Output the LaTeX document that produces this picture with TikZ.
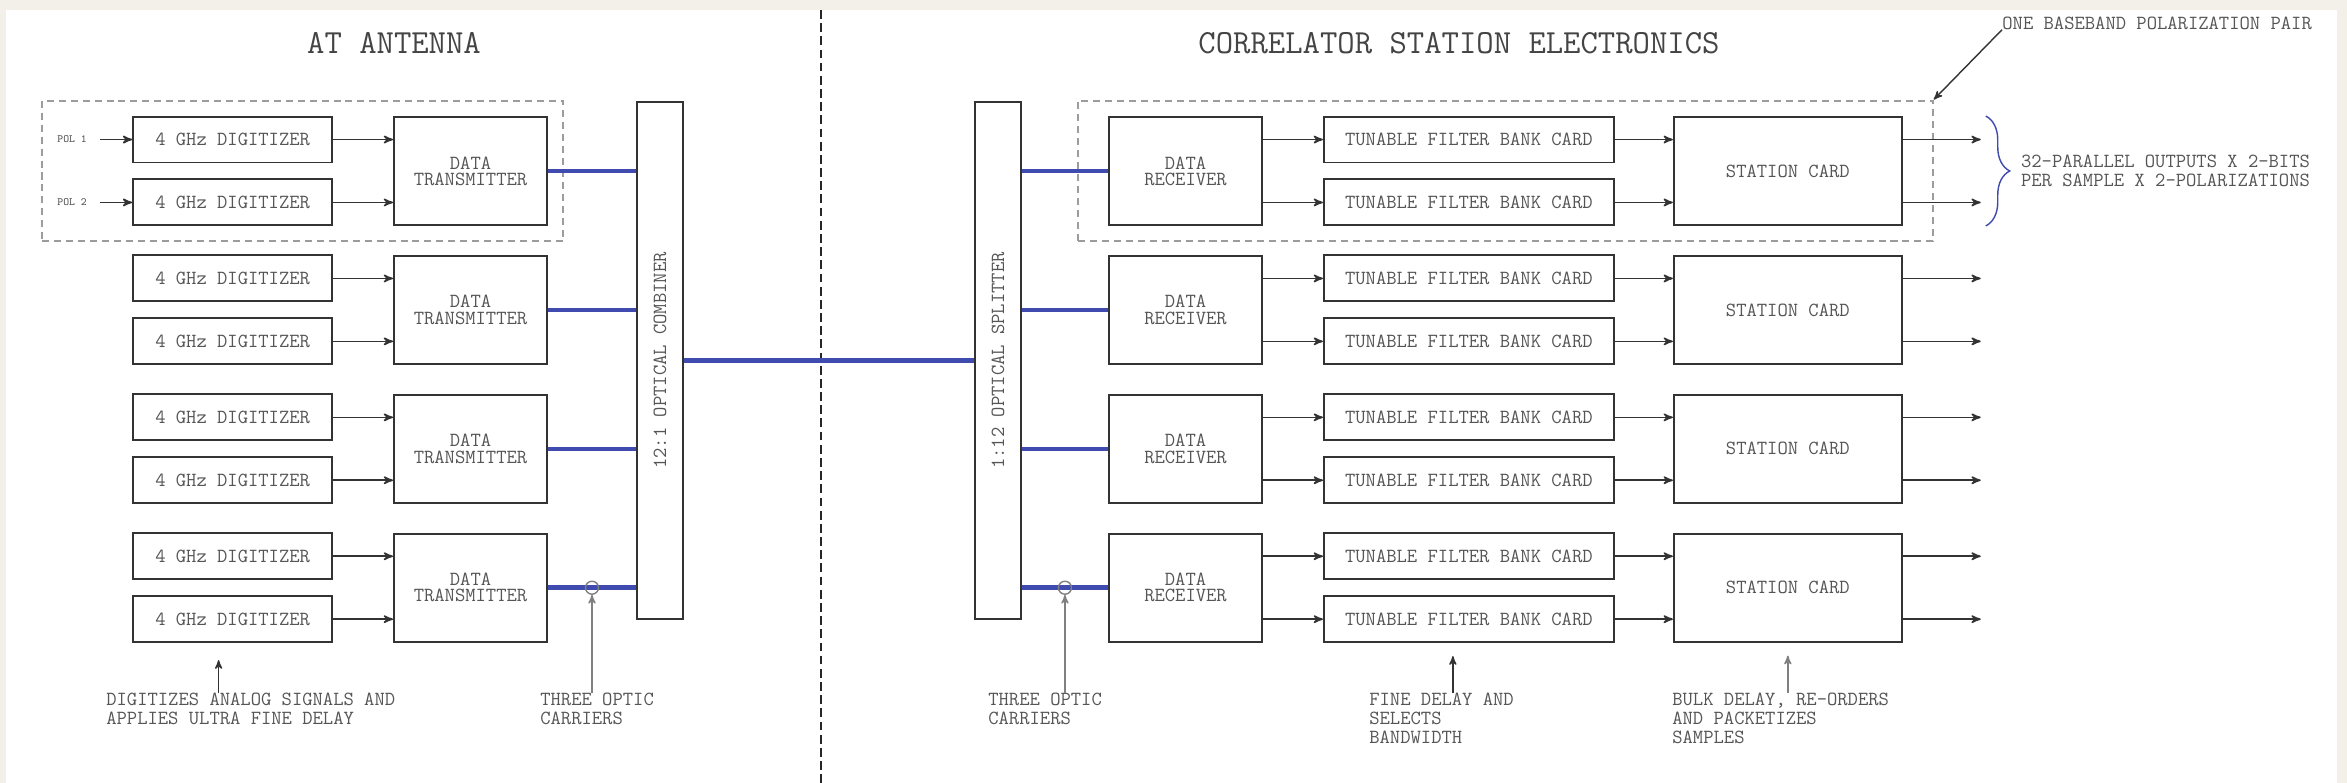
\documentclass[tikz,border=0pt]{standalone}
\usepackage{fontspec}
\usetikzlibrary{arrows, positioning, fit, calc, decorations.pathreplacing}

\definecolor{paper}{HTML}{F3F0EA}
\definecolor{boxgray}{HTML}{333333}
\definecolor{inkgray}{HTML}{555555}
\definecolor{dashgray}{HTML}{9C9C9C}
\definecolor{fiberblue}{HTML}{3F4BAE}

\begin{document}
\begin{tikzpicture}[
        x=0.02cm, y=-0.02cm,
        font=\ttfamily\fontsize{11.4}{9.2}\selectfont,
        card/.style={rectangle, draw=boxgray, line width=1.1pt, text=inkgray, align=center, inner sep=0pt},
        digit/.style={card, minimum width=3.98cm, minimum height=0.92cm},
        unit/.style={card, minimum width=3.06cm, minimum height=2.16cm},
        filt/.style={card, minimum width=5.8cm, minimum height=0.92cm},
        station/.style={card, minimum width=4.56cm, minimum height=2.16cm},
        bar/.style={card, minimum width=0.92cm, minimum height=10.34cm},
        group/.style={draw=dashgray, dash pattern=on 4pt off 2.8pt, line width=1.2pt, inner xsep=0.3cm, inner ysep=0.3cm},
        line/.style={draw=boxgray, -stealth', line width=0.9pt},
        fiber/.style={draw=fiberblue, line width=2.6pt},
        note/.style={text=inkgray, align=left, inner sep=0pt, font=\ttfamily\fontsize{11.4}{10.8}\selectfont},
        hint/.style={draw=boxgray, -stealth', line width=0.8pt},
        tap/.style={circle, draw=gray, line width=0.8pt, minimum size=0.26cm, inner sep=0pt},
        title/.style={text=inkgray!80!black, font=\ttfamily\fontsize{19.2}{22}\selectfont}
    ]
        \useasboundingbox (0,0) rectangle (2347,783);
        \fill[paper] (0,0) rectangle (2347,783);
        \fill[white] (6,10) rectangle (2337,783);

        % Titles and the split between the two sites
        \node[title] (tAnt) at (394,43) {AT ANTENNA};
        \node[title] (tCorr) at (1459,43) {CORRELATOR STATION ELECTRONICS};
        \draw[black!85, line width=0.9pt, dash pattern=on 5pt off 2.5pt] (821,10) -- (821,783);

        % Antenna side: transmitters stacked, digitizers to their left
        \node[unit] (tx1) at (470.5,171) {DATA\\TRANSMITTER};
        \node[unit, below=0.58cm of tx1] (tx2) {DATA\\TRANSMITTER};
        \node[unit, below=0.58cm of tx2] (tx3) {DATA\\TRANSMITTER};
        \node[unit, below=0.58cm of tx3] (tx4) {DATA\\TRANSMITTER};

        \node[digit, above left=0.15cm and 1.2cm of tx1.west] (da1) {4 GHz DIGITIZER};
        \node[digit, below left=0.15cm and 1.2cm of tx1.west] (db1) {4 GHz DIGITIZER};
        \node[digit, above left=0.15cm and 1.2cm of tx2.west] (da2) {4 GHz DIGITIZER};
        \node[digit, below left=0.15cm and 1.2cm of tx2.west] (db2) {4 GHz DIGITIZER};
        \node[digit, above left=0.15cm and 1.2cm of tx3.west] (da3) {4 GHz DIGITIZER};
        \node[digit, below left=0.15cm and 1.2cm of tx3.west] (db3) {4 GHz DIGITIZER};
        \node[digit, above left=0.15cm and 1.2cm of tx4.west] (da4) {4 GHz DIGITIZER};
        \node[digit, below left=0.15cm and 1.2cm of tx4.west] (db4) {4 GHz DIGITIZER};

        \node[note, font=\ttfamily\fontsize{6.3}{7}\selectfont, left=0.9cm of da1] (pol1) {POL 1};
        \node[note, font=\ttfamily\fontsize{6.3}{7}\selectfont, left=0.9cm of db1] (pol2) {POL 2};

        % Optical combiner and splitter
        \node[bar] (comb) at (660,360.5) {\rotatebox{90}{12:1 OPTICAL COMBINER}};
        \node[bar, right=5.8cm of comb] (split) {\rotatebox{90}{1:12 OPTICAL SPLITTER}};

        % Correlator side
        \node[unit] (rx1) at (1185.5,171) {DATA\\RECEIVER};
        \node[unit, below=0.58cm of rx1] (rx2) {DATA\\RECEIVER};
        \node[unit, below=0.58cm of rx2] (rx3) {DATA\\RECEIVER};
        \node[unit, below=0.58cm of rx3] (rx4) {DATA\\RECEIVER};

        \node[filt, above right=0.15cm and 1.2cm of rx1.east] (fa1) {TUNABLE FILTER BANK CARD};
        \node[filt, below right=0.15cm and 1.2cm of rx1.east] (fb1) {TUNABLE FILTER BANK CARD};
        \node[filt, above right=0.15cm and 1.2cm of rx2.east] (fa2) {TUNABLE FILTER BANK CARD};
        \node[filt, below right=0.15cm and 1.2cm of rx2.east] (fb2) {TUNABLE FILTER BANK CARD};
        \node[filt, above right=0.15cm and 1.2cm of rx3.east] (fa3) {TUNABLE FILTER BANK CARD};
        \node[filt, below right=0.15cm and 1.2cm of rx3.east] (fb3) {TUNABLE FILTER BANK CARD};
        \node[filt, above right=0.15cm and 1.2cm of rx4.east] (fa4) {TUNABLE FILTER BANK CARD};
        \node[filt, below right=0.15cm and 1.2cm of rx4.east] (fb4) {TUNABLE FILTER BANK CARD};

        \node[station, right=8.2cm of rx1] (st1) {STATION CARD};
        \node[station, right=8.2cm of rx2] (st2) {STATION CARD};
        \node[station, right=8.2cm of rx3] (st3) {STATION CARD};
        \node[station, right=8.2cm of rx4] (st4) {STATION CARD};

        % Dashed groups (one baseband polarization pair)
        \node[group, fit=(pol1) (da1) (db1) (tx1)] (grpL) {};
        \node[group, fit=(rx1) (fa1) (fb1) (st1), inner xsep=0.6cm] (grpR) {};

        % Edges
        \path[line] ([xshift=0.26cm]pol1.east) -- (da1);
        \path[line] ([xshift=0.26cm]pol2.east) -- (db1);
        \path[line] (da1) -- (da1 -| tx1.west);
        \path[line] (db1) -- (db1 -| tx1.west);
        \path[line] (da2) -- (da2 -| tx2.west);
        \path[line] (db2) -- (db2 -| tx2.west);
        \path[line] (da3) -- (da3 -| tx3.west);
        \path[line] (db3) -- (db3 -| tx3.west);
        \path[line] (da4) -- (da4 -| tx4.west);
        \path[line] (db4) -- (db4 -| tx4.west);

        \path[fiber] (tx1) -- (tx1 -| comb.west);
        \path[fiber] (tx2) -- (tx2 -| comb.west);
        \path[fiber] (tx3) -- (tx3 -| comb.west);
        \path[fiber] (tx4) -- (tx4 -| comb.west);
        \path[fiber] (comb) -- (split);
        \path[fiber] (split.east |- rx1) -- (rx1);
        \path[fiber] (split.east |- rx2) -- (rx2);
        \path[fiber] (split.east |- rx3) -- (rx3);
        \path[fiber] (split.east |- rx4) -- (rx4);

        \path[line] (rx1.east |- fa1) -- (fa1);
        \path[line] (rx1.east |- fb1) -- (fb1);
        \path[line] (rx2.east |- fa2) -- (fa2);
        \path[line] (rx2.east |- fb2) -- (fb2);
        \path[line] (rx3.east |- fa3) -- (fa3);
        \path[line] (rx3.east |- fb3) -- (fb3);
        \path[line] (rx4.east |- fa4) -- (fa4);
        \path[line] (rx4.east |- fb4) -- (fb4);

        \path[line] (fa1) -- (fa1 -| st1.west);
        \path[line] (fb1) -- (fb1 -| st1.west);
        \path[line] (fa2) -- (fa2 -| st2.west);
        \path[line] (fb2) -- (fb2 -| st2.west);
        \path[line] (fa3) -- (fa3 -| st3.west);
        \path[line] (fb3) -- (fb3 -| st3.west);
        \path[line] (fa4) -- (fa4 -| st4.west);
        \path[line] (fb4) -- (fb4 -| st4.west);

        \path[line] (st1.east |- fa1) -- ++(1.56cm,0);
        \path[line] (st1.east |- fb1) -- ++(1.56cm,0);
        \path[line] (st2.east |- fa2) -- ++(1.56cm,0);
        \path[line] (st2.east |- fb2) -- ++(1.56cm,0);
        \path[line] (st3.east |- fa3) -- ++(1.56cm,0);
        \path[line] (st3.east |- fb3) -- ++(1.56cm,0);
        \path[line] (st4.east |- fa4) -- ++(1.56cm,0);
        \path[line] (st4.east |- fb4) -- ++(1.56cm,0);

        % Optic carrier taps
        \node[tap] (tapL) at ($(tx4.east)!0.5!(tx4.east -| comb.west)$) {};
        \node[tap] (tapR) at ($(split.east |- rx4)!0.5!(rx4.west)$) {};

        % Output brace and notes
        \path[draw=fiberblue, line width=0.8pt, decorate, decoration={brace, amplitude=0.48cm}]
            ([xshift=1.66cm]st1.north east) -- ([xshift=1.66cm]st1.south east);
        \node[note, anchor=west] (nOut) at ([xshift=2.36cm]st1.east) {32-PARALLEL OUTPUTS X 2-BITS\\PER SAMPLE X 2-POLARIZATIONS};
        \node[note, anchor=west] (nPair) at (2002,23) {ONE BASEBAND POLARIZATION PAIR};
        \path[hint] (nPair.south west) -- (grpR.north east);

        \node[note, anchor=north west] (nDig) at (106,693) {DIGITIZES ANALOG SIGNALS AND\\APPLIES ULTRA FINE DELAY};
        \node[note, anchor=north west] (nCarL) at (540,693) {THREE OPTIC\\CARRIERS};
        \node[note, anchor=north west] (nCarR) at (988,693) {THREE OPTIC\\CARRIERS};
        \node[note, anchor=north west] (nFilt) at (1369,693) {FINE DELAY AND\\SELECTS\\BANDWIDTH};
        \node[note, anchor=north west] (nSta) at (1672,693) {BULK DELAY, RE-ORDERS\\AND PACKETIZES\\SAMPLES};

        \coordinate (dAim) at ([xshift=-0.28cm, yshift=-0.34cm]db4.south);
        \coordinate (fAim) at ([xshift=-0.32cm, yshift=-0.26cm]fb4.south);
        \coordinate (sAim) at ([yshift=-0.26cm]st4.south);
        \path[hint] (nDig.north -| dAim) -- (dAim);
        \path[hint, draw=gray] (nCarL.north -| tapL) -- (tapL);
        \path[hint, draw=gray] (nCarR.north -| tapR) -- (tapR);
        \path[hint] (nFilt.north -| fAim) -- (fAim);
        \path[hint, draw=gray] (nSta.north -| sAim) -- (sAim);
    \end{tikzpicture}
\end{document}
